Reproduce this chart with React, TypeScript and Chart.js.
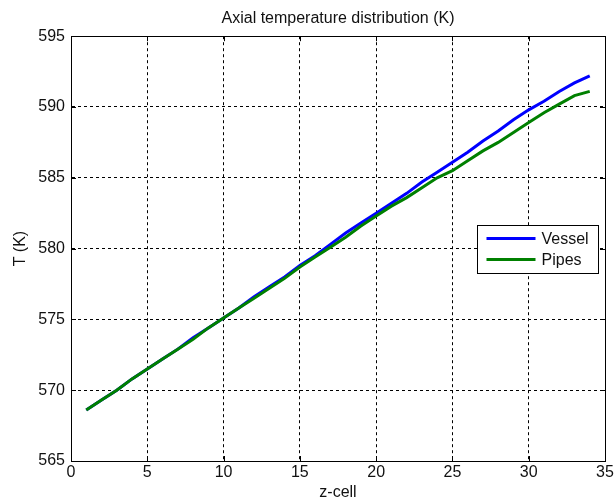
import React, { useEffect, useRef } from 'react';
import { Chart, registerables } from 'chart.js';

Chart.register(...registerables);

const zCells = [1, 2, 3, 4, 5, 6, 7, 8, 9, 10, 11, 12, 13, 14, 15, 16, 17, 18, 19, 20, 21, 22, 23, 24, 25, 26, 27, 28, 29, 30, 31, 32, 33, 34];
const vessel = [568.6, 569.3, 570.0, 570.8, 571.5, 572.2, 572.9, 573.7, 574.4, 575.1, 575.8, 576.6, 577.3, 578.0, 578.8, 579.5, 580.3, 581.1, 581.8, 582.5, 583.2, 583.9, 584.7, 585.4, 586.1, 586.8, 587.6, 588.3, 589.1, 589.8, 590.4, 591.1, 591.7, 592.2];
const pipes = [568.6, 569.3, 570.0, 570.8, 571.5, 572.2, 572.9, 573.6, 574.4, 575.1, 575.8, 576.5, 577.2, 577.9, 578.7, 579.4, 580.1, 580.8, 581.6, 582.3, 583.0, 583.6, 584.3, 585.0, 585.5, 586.2, 586.9, 587.5, 588.2, 588.9, 589.6, 590.2, 590.8, 591.1];
const seriesNames = ['Vessel', 'Pipes'];
const seriesColors = ['#0000ff', '#008000'];

const FONT = "'Liberation Sans', Arial, sans-serif";

const frame = {
  id: 'matlabFrame',
  afterDraw(chart: any) {
    const { ctx, chartArea: a, scales } = chart;
    ctx.save();
    ctx.strokeStyle = '#000';
    ctx.lineWidth = 1;
    ctx.setLineDash([]);
    ctx.strokeRect(Math.round(a.left) + 0.5, Math.round(a.top) + 0.5, Math.round(a.right - a.left), Math.round(a.bottom - a.top));
    // inward ticks
    const tl = 5;
    ctx.beginPath();
    scales.x.ticks.forEach((t: any) => {
      const px = Math.round(scales.x.getPixelForValue(t.value)) + 0.5;
      ctx.moveTo(px, a.bottom); ctx.lineTo(px, a.bottom - tl);
      ctx.moveTo(px, a.top); ctx.lineTo(px, a.top + tl);
    });
    scales.y.ticks.forEach((t: any) => {
      const py = Math.round(scales.y.getPixelForValue(t.value)) + 0.5;
      ctx.moveTo(a.left, py); ctx.lineTo(a.left + tl, py);
      ctx.moveTo(a.right, py); ctx.lineTo(a.right - tl, py);
    });
    ctx.stroke();

    // legend box
    const bw = 121, bh = 48;
    const bx = Math.round(a.right - 7 - bw) + 0.5;
    const by = Math.round(a.top + 189) + 0.5;
    ctx.fillStyle = '#fff';
    ctx.fillRect(bx, by, bw, bh);
    ctx.strokeStyle = '#000';
    ctx.strokeRect(bx, by, bw, bh);
    ctx.font = `16px ${FONT}`;
    ctx.textBaseline = 'middle';
    ctx.textAlign = 'left';
    chart.data.datasets.forEach((ds: any, i: number) => {
      const y = by + 13 + i * 21;
      ctx.strokeStyle = ds.borderColor;
      ctx.lineWidth = 3;
      ctx.beginPath();
      ctx.moveTo(bx + 9, y); ctx.lineTo(bx + 58, y);
      ctx.stroke();
      ctx.fillStyle = '#111';
      ctx.fillText(ds.label, bx + 64, y + 1);
    });
    ctx.restore();
  },
};

export default function App() {
  const ref = useRef<HTMLCanvasElement>(null);
  useEffect(() => {
    document.body.style.margin = '0';
    const chart = new Chart(ref.current!, {
      type: 'line',
      data: {
        datasets: [vessel, pipes].map((vals, i) => ({
          label: seriesNames[i],
          data: zCells.map((z, j) => ({ x: z, y: vals[j] })),
          borderColor: seriesColors[i],
          backgroundColor: seriesColors[i],
          borderWidth: 3,
          pointRadius: 0,
          tension: 0,
          fill: false,
          order: i === 0 ? 1 : 0,
        })),
      },
      options: {
        responsive: false,
        animation: false,
        layout: { padding: { left: 0, right: 11, top: 0, bottom: 0 } },
        plugins: {
          legend: { display: false },
          tooltip: { enabled: false },
          title: {
            display: true,
            text: 'Axial temperature distribution (K)',
            color: '#111',
            font: { family: FONT, size: 16, weight: 'normal' },
            padding: { top: 9, bottom: 8 },
            fullSize: false,
          },
        },
        scales: {
          x: {
            type: 'linear',
            min: 0,
            max: 35,
            ticks: { stepSize: 5, color: '#111', font: { family: FONT, size: 16 }, padding: 2, maxRotation: 0 },
            grid: { color: '#000', lineWidth: 1, drawTicks: false },
            border: { display: true, color: '#000', dash: [3, 3] },
            title: { display: true, text: 'z-cell', color: '#111', font: { family: FONT, size: 16 }, padding: { top: 0, bottom: -2 } },
            afterFit: (s: any) => { s.height = 39; },
          },
          y: {
            type: 'linear',
            min: 565,
            max: 595,
            ticks: { stepSize: 5, color: '#111', font: { family: FONT, size: 16 }, padding: 6 },
            grid: { color: '#000', lineWidth: 1, drawTicks: false },
            border: { display: true, color: '#000', dash: [3, 3] },
            title: { display: true, text: 'T (K)', color: '#111', font: { family: FONT, size: 16 }, padding: { top: 11, bottom: 0 } },
            afterFit: (s: any) => { s.width = 71; },
          },
        },
      },
      plugins: [frame],
    });
    return () => chart.destroy();
  }, []);
  return (
    <div style={{ width: 616, height: 500 }}>
      <canvas ref={ref} width={616} height={500} style={{ display: 'block' }} />
    </div>
  );
}
